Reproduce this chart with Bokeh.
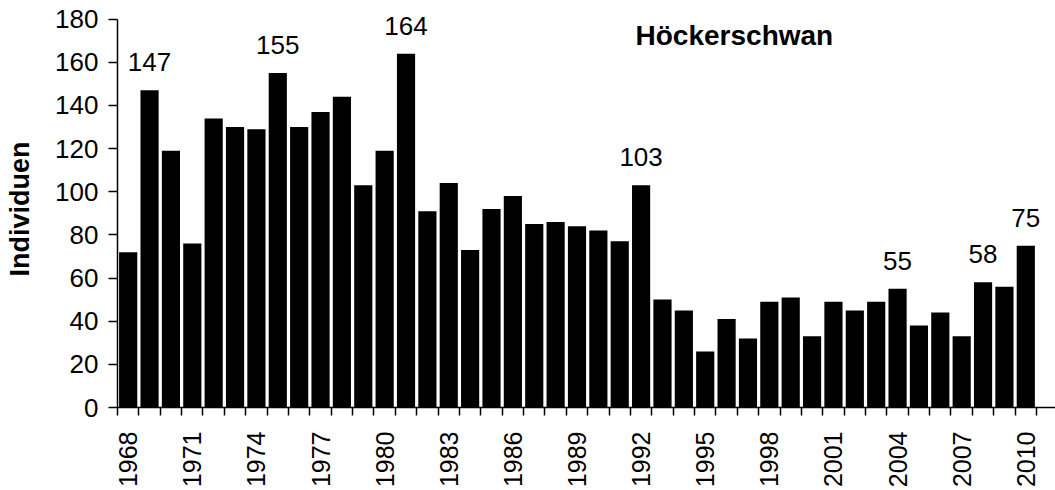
from bokeh.plotting import figure
from bokeh.models import ColumnDataSource, FixedTicker, LabelSet, Label, Range1d
from bokeh.core.properties import value
from bokeh.embed import file_html
from bokeh.resources import INLINE

# ---- data ----
years = list(range(1968, 2011))
counts = [72, 147, 119, 76, 134, 130, 129, 155, 130, 137, 144, 103,
          119, 164, 91, 104, 73, 92, 98, 85, 86, 84,
          82, 77, 103, 50, 45, 26, 41, 32, 49, 51,
          33, 49, 45, 49, 55, 38, 44, 33, 58, 56, 75]
labeled_years = [1969, 1975, 1981, 1992, 2004, 2008, 2010]
tick_years = [1968, 1971, 1974, 1977, 1980, 1983, 1986, 1989, 1992,
              1995, 1998, 2001, 2004, 2007, 2010]
y_ticks = [0, 20, 40, 60, 80, 100, 120, 140, 160, 180]
title_text = "Höckerschwan"
y_label = "Individuen"

FONT = "Liberation Sans"

src = ColumnDataSource(dict(x=years, top=counts))
lab_counts = [counts[years.index(y)] for y in labeled_years]
lab_src = ColumnDataSource(dict(x=labeled_years, y=lab_counts,
                                t=[str(c) for c in lab_counts]))

p = figure(width=1055, height=490, output_backend="svg",
           toolbar_location=None,
           x_range=Range1d(1967.5, 2011.39), y_range=Range1d(0, 184),
           min_border_left=117, min_border_right=0, min_border_top=10,
           min_border_bottom=83)
p.outline_line_color = None
p.grid.visible = False
p.background_fill_color = "white"
p.border_fill_color = "white"

p.vbar(x="x", top="top", width=0.85, bottom=0, source=src,
       fill_color="black", line_color=None)

labels = LabelSet(x="x", y="y", text="t", source=lab_src, y_offset=19,
                  text_align="center", text_baseline="alphabetic",
                  text_font=value(FONT), text_font_size=value("26px"),
                  text_color="black")
p.add_layout(labels)

title = Label(x=1991.74, y=172.5, text=title_text, text_font=FONT,
              text_font_size="28px", text_font_style="bold",
              text_align="left", text_baseline="alphabetic", text_color="black")
p.add_layout(title)

# x axis
minor = [y - 0.5 for y in years] + [years[-1] + 0.5]
p.xaxis.ticker = FixedTicker(ticks=tick_years, minor_ticks=minor)
p.xaxis.major_tick_out = 0
p.xaxis.major_tick_in = 0
p.xaxis.minor_tick_out = 8
p.xaxis.minor_tick_in = 0
p.xaxis.minor_tick_line_color = "black"
p.xaxis.minor_tick_line_width = 1.5
p.xaxis.axis_line_color = "black"
p.xaxis.axis_line_width = 1.5
p.xaxis.major_label_orientation = 1.5707963
p.xaxis.major_label_standoff = 16
p.xaxis.major_label_text_font = FONT
p.xaxis.major_label_text_font_size = "25px"
p.xaxis.major_label_text_color = "black"

# y axis
p.yaxis.ticker = FixedTicker(ticks=y_ticks)
p.yaxis.bounds = (0, 180)
p.yaxis.major_tick_out = 9
p.yaxis.major_tick_in = 0
p.yaxis.minor_tick_line_color = None
p.yaxis.major_tick_line_color = "black"
p.yaxis.major_tick_line_width = 1.5
p.yaxis.axis_line_color = "black"
p.yaxis.axis_line_width = 1.5
p.yaxis.major_label_standoff = 10
p.yaxis.major_label_text_font = FONT
p.yaxis.major_label_text_font_size = "26px"
p.yaxis.major_label_text_color = "black"
p.yaxis.axis_label = y_label
p.yaxis.axis_label_text_font = FONT
p.yaxis.axis_label_text_font_size = "27px"
p.yaxis.axis_label_text_font_style = "bold"
p.yaxis.axis_label_text_color = "black"
p.yaxis.axis_label_standoff = 17

open("out.html", "w").write(file_html(p, INLINE))
